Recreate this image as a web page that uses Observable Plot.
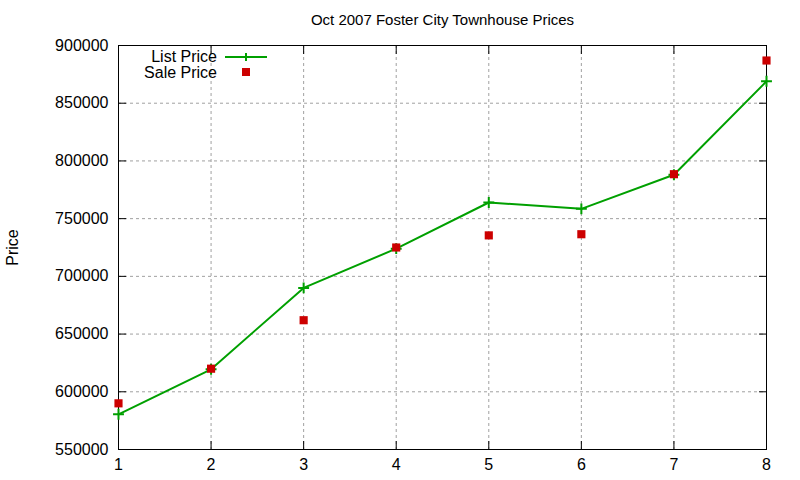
<!DOCTYPE html>
<html>
<head>
<meta charset="utf-8">
<script src="https://cdn.jsdelivr.net/npm/d3@7"></script>
<script src="https://cdn.jsdelivr.net/npm/@observablehq/plot@0.6"></script>
<style>
  html, body { margin: 0; padding: 0; background: #fff; }
  #chart { position: relative; width: 800px; height: 480px; }
</style>
</head>
<body>
<div id="chart"></div>
<script>
const title = "Oct 2007 Foster City Townhouse Prices";
const yLabel = "Price";
const months = [1, 2, 3, 4, 5, 6, 7, 8];
const listPrice = [580500, 619500, 690000, 724000, 764000, 758500, 788000, 869000];
const salePrice = [590000, 620000, 662000, 725000, 735500, 736500, 788500, 887000];
const xTicks = [1, 2, 3, 4, 5, 6, 7, 8];
const yTicks = [550000, 600000, 650000, 700000, 750000, 800000, 850000, 900000];
const seriesNames = ["List Price", "Sale Price"];

const data = months.map((m, i) => ({month: m, list: listPrice[i], sale: salePrice[i]}));

const green = "#00a000";
const red = "#cc0000";
const gridColor = "#a0a0a0";

const chart = Plot.plot({
  width: 800,
  height: 480,
  marginLeft: 118,
  marginRight: 34,
  marginTop: 45,
  marginBottom: 31,
  style: {fontFamily: "'Liberation Sans', Arial, sans-serif", fontSize: "16px", background: "#fff", color: "#000"},
  x: {domain: [1, 8]},
  y: {domain: [550000, 900000]},
  marks: [
    Plot.gridX(xTicks, {stroke: gridColor, strokeOpacity: 1, strokeDasharray: "3,3"}),
    Plot.gridY(yTicks, {stroke: gridColor, strokeOpacity: 1, strokeDasharray: "3,3"}),
    Plot.axisX(xTicks, {anchor: "bottom", tickSize: 0, tickPadding: 9, tickFormat: d => String(d), label: null, fontSize: 16}),
    Plot.axisY(yTicks, {anchor: "left", tickSize: 0, tickPadding: 10, tickFormat: d => String(d), label: null, fontSize: 16}),
    Plot.axisX(xTicks, {anchor: "bottom", tickSize: -8, fill: "none", label: null}),
    Plot.axisX(xTicks, {anchor: "top", tickSize: -8, fill: "none", label: null}),
    Plot.axisY(yTicks, {anchor: "left", tickSize: -8, fill: "none", label: null}),
    Plot.axisY(yTicks, {anchor: "right", tickSize: -8, fill: "none", label: null}),
    Plot.frame({stroke: "#000", strokeWidth: 1}),
    Plot.line(data, {x: "month", y: "list", stroke: green, strokeWidth: 2}),
    Plot.dot(data, {x: "month", y: "list", symbol: "plus", r: 3.6, stroke: green, strokeWidth: 2}),
    Plot.dot(data, {x: "month", y: "sale", symbol: "square", r: 4.6, fill: red, stroke: "none"}),
    Plot.text([title], {frameAnchor: "top", textAnchor: "middle", lineAnchor: "middle", dy: -25, fontSize: 15, fill: "#000"}),
    Plot.text([yLabel], {frameAnchor: "left", textAnchor: "middle", lineAnchor: "middle", dx: -106, rotate: -90, fontSize: 16, fill: "#000"})
  ]
});

document.getElementById("chart").appendChild(chart);

// Legend (inside the plot, top-left), gnuplot style
const svg = d3.select(chart);
const lg = svg.append("g")
  .attr("font-family", "'Liberation Sans', Arial, sans-serif")
  .attr("font-size", 16);
lg.append("text").attr("x", 217).attr("y", 56).attr("dy", "0.35em")
  .attr("text-anchor", "end").attr("fill", "#000").text(seriesNames[0]);
lg.append("line").attr("x1", 225).attr("x2", 267).attr("y1", 57).attr("y2", 57)
  .attr("stroke", green).attr("stroke-width", 2);
lg.append("path").attr("d", "M242,57H250M246,53V61")
  .attr("stroke", green).attr("stroke-width", 2);
lg.append("text").attr("x", 217).attr("y", 72).attr("dy", "0.35em")
  .attr("text-anchor", "end").attr("fill", "#000").text(seriesNames[1]);
lg.append("rect").attr("x", 242).attr("y", 68).attr("width", 8).attr("height", 8)
  .attr("fill", red);
</script>
</body>
</html>
